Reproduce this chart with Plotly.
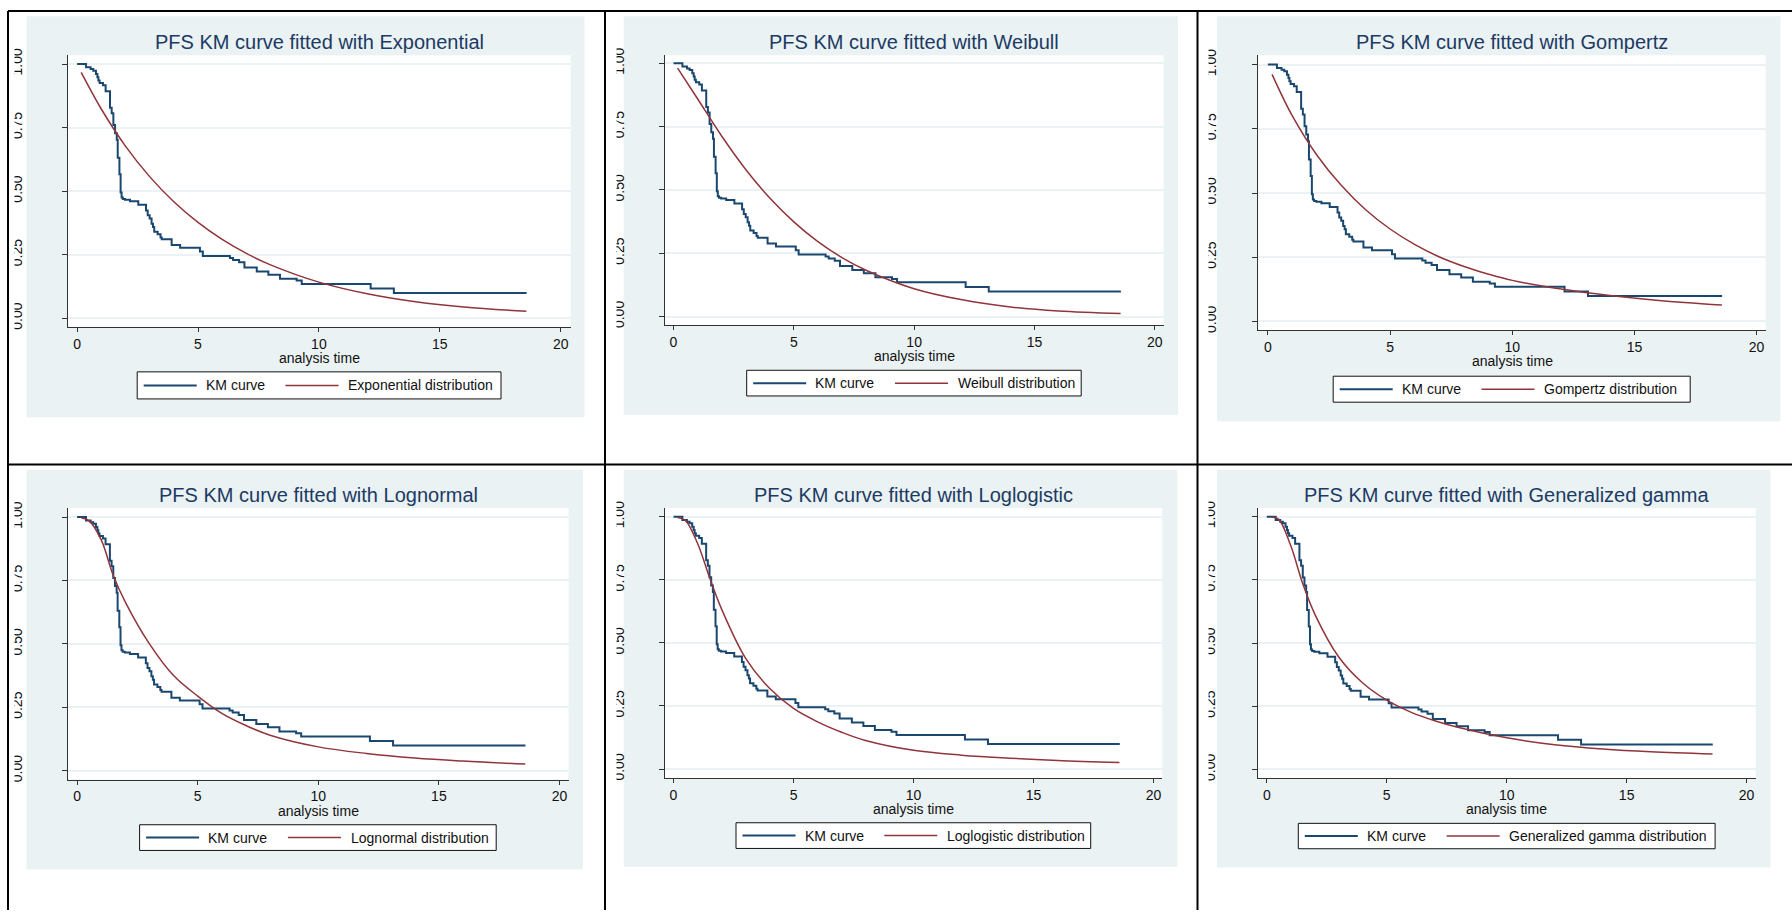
import plotly.graph_objects as go

W, H = 1792, 913

# ---------------- data ----------------
km_time = [0, 0.37, 0.56, 0.67, 0.78, 0.84, 0.88, 0.93, 1.07, 1.18, 1.36, 1.43, 1.50, 1.57,
           1.64, 1.68, 1.75, 1.80, 1.84, 1.89, 1.98, 2.19, 2.53, 2.85, 2.92, 3.00, 3.08, 3.14,
           3.19, 3.33, 3.45, 3.50, 3.91, 4.26, 5.08, 5.20, 6.32, 6.45, 6.70, 6.92, 7.43, 7.91,
           8.39, 9.08, 9.29, 12.14, 13.10, 18.59]
km_surv = [1.000, 0.987, 0.980, 0.974, 0.961, 0.948, 0.935, 0.925, 0.916, 0.893, 0.828, 0.806,
           0.760, 0.728, 0.702, 0.631, 0.566, 0.495, 0.475, 0.469, 0.466, 0.460, 0.446, 0.424,
           0.405, 0.392, 0.372, 0.359, 0.340, 0.330, 0.318, 0.311, 0.288, 0.277, 0.262, 0.245,
           0.237, 0.229, 0.220, 0.200, 0.184, 0.171, 0.155, 0.148, 0.135, 0.117, 0.099, 0.099]

exp_time = [0.17, 1, 2, 3, 4, 5, 6, 7, 8, 10, 12, 14, 16, 18.58]
exp_surv = [0.967, 0.823, 0.677, 0.557, 0.458, 0.377, 0.310, 0.255, 0.210, 0.142, 0.096,
            0.065, 0.044, 0.027]

wei_time = [0.17, 1, 2, 3, 4, 5, 6, 7, 8, 10, 12, 14, 16, 18.58]
wei_surv = [0.981, 0.860, 0.713, 0.581, 0.468, 0.374, 0.296, 0.233, 0.183, 0.110, 0.066,
            0.038, 0.022, 0.012]

gom_time = [0.17, 1, 2, 3, 4, 5, 6, 7, 8, 9, 10, 12, 14, 16, 18.58]
gom_surv = [0.962, 0.800, 0.648, 0.530, 0.435, 0.360, 0.300, 0.252, 0.215, 0.185, 0.160,
            0.126, 0.101, 0.082, 0.064]

logn_time = [0.17, 0.5, 1, 1.5, 2, 3, 4, 5, 6, 7, 8, 10, 12, 14, 16, 18.58]
logn_surv = [0.997, 0.985, 0.910, 0.770, 0.665, 0.500, 0.375, 0.294, 0.226, 0.178, 0.140,
             0.094, 0.068, 0.050, 0.038, 0.026]

llog_time = [0.17, 0.5, 1, 1.5, 2, 3, 4, 5, 6, 7, 8, 10, 12, 14, 16, 18.58]
llog_surv = [0.997, 0.985, 0.895, 0.760, 0.635, 0.440, 0.320, 0.240, 0.187, 0.146, 0.113,
             0.074, 0.055, 0.043, 0.034, 0.026]

gg_time = [0.21, 0.5, 1, 1.5, 2, 3, 4, 5, 6, 7, 8, 10, 12, 14, 16, 18.58]
gg_surv = [0.999, 0.990, 0.885, 0.735, 0.615, 0.445, 0.342, 0.274, 0.227, 0.193, 0.166,
           0.125, 0.098, 0.081, 0.070, 0.061]

dist_names = ["Exponential", "Weibull", "Gompertz", "Lognormal", "Loglogistic",
              "Generalized gamma"]
fit_times = [exp_time, wei_time, gom_time, logn_time, llog_time, gg_time]
fit_survs = [exp_surv, wei_surv, gom_surv, logn_surv, llog_surv, gg_surv]

x_ticks = [0, 5, 10, 15, 20]
y_ticks = [0, 0.25, 0.5, 0.75, 1.0]
y_tick_text = ["0.00", "0.25", "0.50", "0.75", "1.00"]

# ---------------- layout geometry (pixels) ----------------
# clip = x-range of the white strip that hides the tops of the rotated y labels
panels = [
    dict(L=68.0, R=570.6, T=47.7, B=322.7, X0=77.1, X20=560.7, Y1=56.7, Y0=314.0,
         bg=(26.5, 8.3, 584.4, 414.3), leg=(137.2, 368.3, 501.0, 395.7),
         standoff=34, clip=(9.5, 14.5)),
    dict(L=664.5, R=1163.5, T=47.7, B=321.0, X0=673.5, X20=1154.8, Y1=56.0, Y0=312.3,
         bg=(623.7, 8.3, 1178.0, 411.7), leg=(746.7, 366.7, 1081.2, 392.7),
         standoff=29, clip=(606.5, 616.5)),
    dict(L=1258.3, R=1765.8, T=47.7, B=326.0, X0=1267.9, X20=1756.6, Y1=57.3, Y0=317.3,
         bg=(1216.9, 8.3, 1780.4, 418.3), leg=(1333.2, 372.7, 1690.2, 399.0),
         standoff=31, clip=(1199.0, 1208.5)),
    dict(L=68.0, R=568.6, T=506.0, B=781.0, X0=77.1, X20=559.5, Y1=515.3, Y0=772.0,
         bg=(26.5, 467.3, 582.9, 871.7), leg=(139.6, 826.7, 496.2, 852.7),
         standoff=34, clip=(9.5, 14.5)),
    dict(L=664.5, R=1162.3, T=506.0, B=779.3, X0=673.5, X20=1153.6, Y1=515.0, Y0=770.3,
         bg=(623.7, 467.3, 1177.3, 869.3), leg=(736.0, 824.7, 1090.7, 850.7),
         standoff=29, clip=(606.5, 616.5)),
    dict(L=1258.0, R=1755.8, T=506.0, B=779.3, X0=1266.8, X20=1746.6, Y1=515.0, Y0=770.7,
         bg=(1216.9, 467.3, 1770.4, 870.0), leg=(1298.3, 825.3, 1715.1, 851.0),
         standoff=31, clip=(1199.0, 1208.5)),
]

NAVY = "#1a476f"
MAROON = "#90353b"
BG = "#eaf2f3"
TITLE_C = "#1c3a63"
FONT = "Liberation Sans, Arial, sans-serif"


def px(x):
    return x / W


def py(y):
    return 1 - y / H


fig = go.Figure()
shapes = []
annotations = []
layout_axes = {}

for i, (p, name, ft, fs) in enumerate(zip(panels, dist_names, fit_times, fit_survs), start=1):
    sx = "" if i == 1 else str(i)
    xref, yref = "x" + sx, "y" + sx

    fig.add_trace(go.Scatter(x=km_time, y=km_surv, mode="lines", name="KM curve",
                             line=dict(color=NAVY, width=2, shape="hv"),
                             xaxis=xref, yaxis=yref, showlegend=False))
    fig.add_trace(go.Scatter(x=ft, y=fs, mode="lines", name=name + " distribution",
                             line=dict(color=MAROON, width=1.5, shape="spline", smoothing=1.0),
                             xaxis=xref, yaxis=yref, showlegend=False))

    ppx = (p["X20"] - p["X0"]) / 20.0
    ppy = (p["Y0"] - p["Y1"]) / 1.0
    xr = [(p["L"] - p["X0"]) / ppx, (p["R"] - p["X0"]) / ppx]
    yr = [(p["Y0"] - p["B"]) / ppy, (p["Y0"] - p["T"]) / ppy]

    layout_axes["xaxis" + sx] = dict(
        domain=[px(p["L"]), px(p["R"])], range=xr, anchor=yref,
        tickvals=x_ticks, ticks="outside", ticklen=4, tickwidth=1, tickcolor="#333",
        showline=True, linecolor="#333", linewidth=1, showgrid=False, zeroline=False,
        tickfont=dict(family=FONT, size=14, color="#111"), fixedrange=True)
    layout_axes["yaxis" + sx] = dict(
        domain=[py(p["B"]), py(p["T"])], range=yr, anchor=xref,
        tickvals=y_ticks, ticktext=y_tick_text, tickangle=-90,
        ticks="outside", ticklen=5, tickwidth=1, tickcolor="#333",
        showline=True, linecolor="#333", linewidth=1,
        showgrid=True, gridcolor=BG, gridwidth=1.5, zeroline=False,
        ticklabelstandoff=p["standoff"],
        tickfont=dict(family=FONT, size=14, color="#111"), fixedrange=True)

    # background of the graph region + white plot region
    bx0, by0, bx1, by1 = p["bg"]
    shapes.append(dict(type="rect", xref="paper", yref="paper", layer="below",
                       x0=px(bx0), x1=px(bx1), y0=py(by1), y1=py(by0),
                       fillcolor=BG, line=dict(width=0)))
    shapes.append(dict(type="rect", xref="paper", yref="paper", layer="below",
                       x0=px(p["L"]), x1=px(p["R"]), y0=py(p["B"]), y1=py(p["T"]),
                       fillcolor="white", line=dict(width=0)))
    # white strip hiding the tops of the y labels (they are cut off in the reference)
    cx0, cx1 = p["clip"]
    shapes.append(dict(type="rect", xref="paper", yref="paper", layer="above",
                       x0=px(cx0), x1=px(cx1), y0=py(by1), y1=py(by0),
                       fillcolor="white", line=dict(width=0)))

    cx = (p["L"] + p["R"]) / 2
    # title
    annotations.append(dict(text="PFS KM curve fitted with " + name, xref="paper", yref="paper",
                            x=px(cx), y=py(p["bg"][1] + 26.0), xanchor="center", yanchor="middle",
                            showarrow=False, font=dict(family=FONT, size=20, color=TITLE_C)))
    # x axis title
    annotations.append(dict(text="analysis time", xref="paper", yref="paper",
                            x=px(cx), y=py(p["B"] + 31.5), xanchor="center", yanchor="middle",
                            showarrow=False, font=dict(family=FONT, size=14, color="#111")))

    # legend (box, samples, labels)
    lx0, ly0, lx1, ly1 = p["leg"]
    lc = (ly0 + ly1) / 2
    shapes.append(dict(type="rect", xref="paper", yref="paper", layer="above",
                       x0=px(lx0), x1=px(lx1), y0=py(ly1), y1=py(ly0),
                       fillcolor="white", line=dict(color="#111", width=1)))
    shapes.append(dict(type="line", xref="paper", yref="paper", layer="above",
                       x0=px(lx0 + 6.5), x1=px(lx0 + 59.5), y0=py(lc), y1=py(lc),
                       line=dict(color=NAVY, width=2)))
    shapes.append(dict(type="line", xref="paper", yref="paper", layer="above",
                       x0=px(lx0 + 148.3), x1=px(lx0 + 201.3), y0=py(lc), y1=py(lc),
                       line=dict(color=MAROON, width=1.5)))
    annotations.append(dict(text="KM curve", xref="paper", yref="paper",
                            x=px(lx0 + 66.5), y=py(lc), xanchor="left", yanchor="middle",
                            showarrow=False, font=dict(family=FONT, size=14, color="#111")))
    annotations.append(dict(text=name + " distribution", xref="paper", yref="paper",
                            x=px(lx0 + 209.0), y=py(lc), xanchor="left", yanchor="middle",
                            showarrow=False, font=dict(family=FONT, size=14, color="#111")))

# table borders
border = dict(color="black", width=2)
for (x0, y0, x1, y1) in [(8, 3, 1792, 3), (8, 462, 1792, 462), (8, 3, 8, 913),
                         (605, 3, 605, 913), (1197.5, 3, 1197.5, 913)]:
    shapes.append(dict(type="line", xref="paper", yref="paper", layer="above",
                       x0=px(x0), x1=px(x1), y0=py(y0), y1=py(y1), line=border))

fig.update_layout(
    width=W, height=H, margin=dict(l=0, r=0, t=0, b=0),
    paper_bgcolor="white", plot_bgcolor="white",
    shapes=shapes, annotations=annotations, showlegend=False,
    font=dict(family=FONT, size=14, color="#111"),
    **layout_axes,
)

fig.write_html("out.html")
